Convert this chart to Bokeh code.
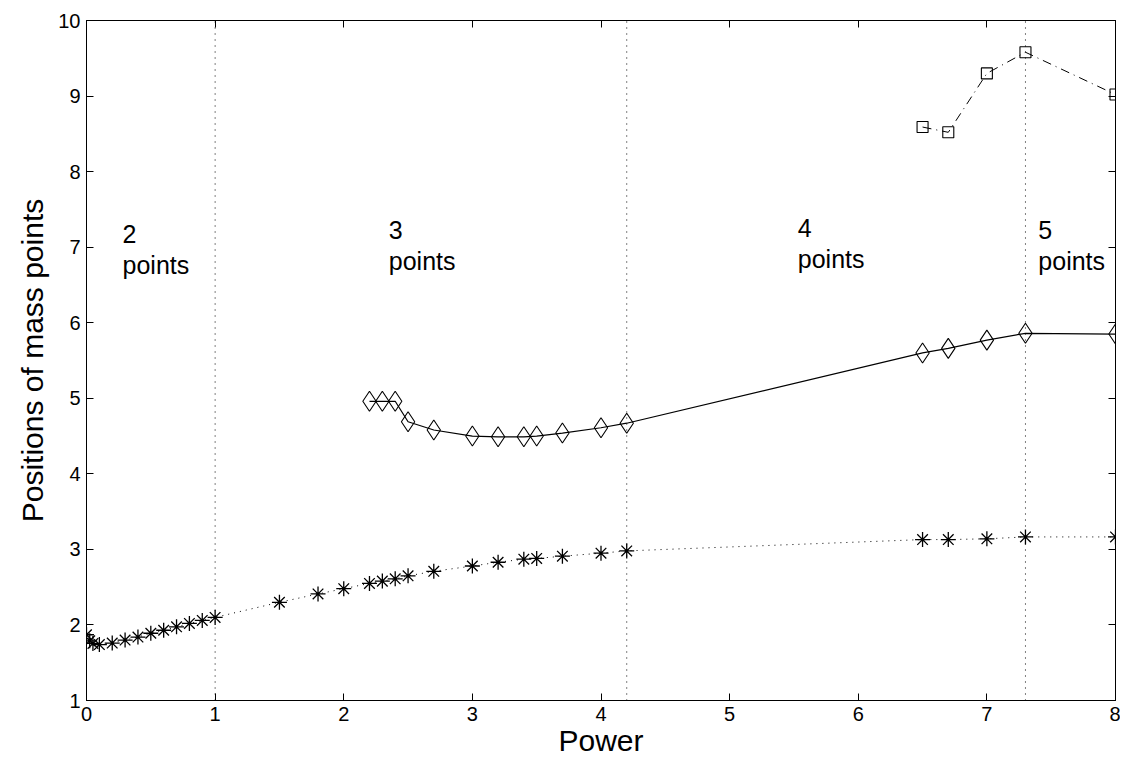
from bokeh.plotting import figure
from bokeh.models import Range1d, LinearAxis, FixedTicker, ColumnDataSource
from bokeh.core.properties import value
from bokeh.embed import file_html
from bokeh.resources import INLINE

# Series 1 (stars, dotted)
star_x = [0, 0.025, 0.05, 0.1, 0.2, 0.3, 0.4, 0.5, 0.6, 0.7, 0.8, 0.9, 1.0,
          1.5, 1.8, 2.0, 2.2, 2.3, 2.4, 2.5, 2.7, 3.0, 3.2, 3.4, 3.5, 3.7, 4.0, 4.2,
          6.5, 6.7, 7.0, 7.3, 8.0]
star_y = [1.87, 1.79, 1.755, 1.74, 1.76, 1.80, 1.84, 1.89, 1.93, 1.975, 2.02, 2.06, 2.10,
          2.30, 2.41, 2.48, 2.55, 2.58, 2.61, 2.65, 2.71, 2.78, 2.83, 2.87, 2.88, 2.91, 2.95, 2.98,
          3.13, 3.13, 3.14, 3.165, 3.165]

# Series 2 (diamonds, solid)
dia_x = [2.2, 2.3, 2.4, 2.5, 2.7, 3.0, 3.2, 3.4, 3.5, 3.7, 4.0, 4.2, 6.5, 6.7, 7.0, 7.3, 8.0]
dia_y = [4.96, 4.96, 4.96, 4.69, 4.58, 4.50, 4.49, 4.49, 4.50, 4.54, 4.61, 4.67,
         5.60, 5.66, 5.77, 5.86, 5.85]

# Series 3 (squares, dash-dot)
sq_x = [6.5, 6.7, 7.0, 7.3, 8.0]
sq_y = [8.59, 8.52, 9.30, 9.58, 9.02]

# Region boundaries
bound_x = [1.0, 4.2, 7.3]

# Region labels
label_num = ["2", "3", "4", "5"]
label_x = [0.28, 2.35, 5.53, 7.40]
label_y = [7.36, 7.41, 7.44, 7.41]

font = "Liberation Sans"

p = figure(width=1120, height=756, output_backend="svg", toolbar_location=None,
           x_range=Range1d(0, 8), y_range=Range1d(1, 10),
           min_border_left=86, min_border_right=5, min_border_top=20, min_border_bottom=56)
p.frame_width = 1029
p.frame_height = 680
p.grid.visible = False
p.background_fill_color = "white"
p.border_fill_color = "white"
p.outline_line_color = "black"
p.outline_line_width = 1

for ax in [p.xaxis[0], p.yaxis[0]]:
    ax.major_tick_in = 7
    ax.major_tick_out = 0
    ax.minor_tick_in = 0
    ax.minor_tick_out = 0
    ax.axis_line_color = "black"
    ax.major_tick_line_color = "black"
    ax.major_label_text_font = font
    ax.major_label_text_font_size = "20px"
    ax.major_label_text_color = "black"
    ax.axis_label_text_font = font
    ax.axis_label_text_font_size = "30px"
    ax.axis_label_text_font_style = "normal"
    ax.axis_label_text_color = "black"

p.xaxis.ticker = FixedTicker(ticks=list(range(0, 9)))
p.yaxis.ticker = FixedTicker(ticks=list(range(1, 11)))
p.xaxis.axis_label = "Power"
p.yaxis.axis_label = "Positions of mass points"
p.xaxis.major_label_standoff = 6
p.yaxis.major_label_standoff = 6
p.xaxis.axis_label_standoff = 0
p.yaxis.axis_label_standoff = 6

top = LinearAxis(ticker=FixedTicker(ticks=list(range(0, 9))), major_label_text_font_size="0px",
                 major_tick_in=7, major_tick_out=0, minor_tick_in=0, minor_tick_out=0)
right = LinearAxis(ticker=FixedTicker(ticks=list(range(1, 11))), major_label_text_font_size="0px",
                   major_tick_in=7, major_tick_out=0, minor_tick_in=0, minor_tick_out=0)
p.add_layout(top, "above")
p.add_layout(right, "right")

# vertical dotted boundaries
for bx in bound_x:
    p.line(x=[bx, bx], y=[1, 10], line_color="black", line_dash="1 5", line_width=1)

# stars
p.line(star_x, star_y, line_color="black", line_dash="1 5", line_width=1)
p.scatter(star_x, star_y, marker="asterisk", size=15, line_color="black", line_width=1.3)

# diamonds
p.line(dia_x, dia_y, line_color="black", line_width=1.2)
p.scatter(dia_x, dia_y, marker="diamond", size=20, fill_color=None, line_color="black", line_width=1.1)

# squares
p.line(sq_x, sq_y, line_color="black", line_dash="9 5 1 5", line_width=1)
p.scatter(sq_x, sq_y, marker="square", size=11, fill_color=None, line_color="black", line_width=1.1)

# region labels
src = ColumnDataSource(dict(x=label_x, y=label_y, t=[n + "\npoints" for n in label_num]))
p.text(x="x", y="y", text="t", source=src, text_font=value(font), text_font_size="25px",
       text_baseline="top", text_align="left", text_color="black", text_line_height=1.1)

open("out.html", "w").write(file_html(p, INLINE))
